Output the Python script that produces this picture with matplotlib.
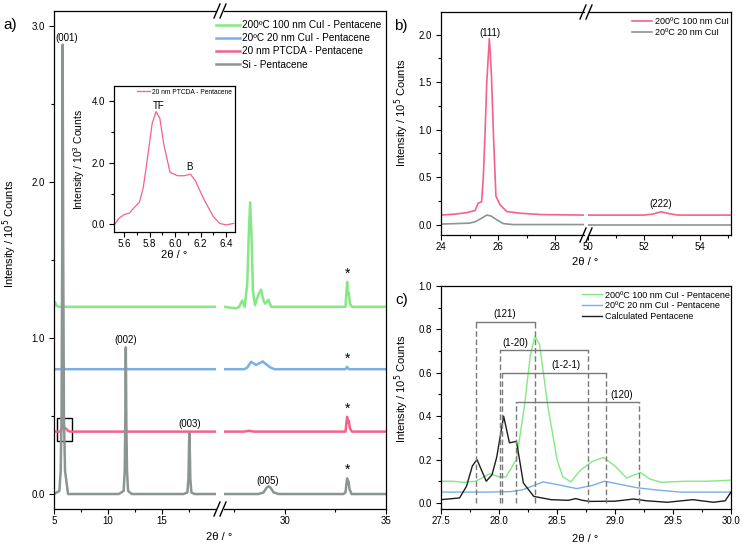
import matplotlib.pyplot as plt
from matplotlib.lines import Line2D
from matplotlib.patches import Rectangle
from matplotlib.ticker import FormatStrFormatter

plt.rcParams['font.family'] = ['Liberation Sans', 'DejaVu Sans']
plt.rcParams['axes.linewidth'] = 0.9

# ---- panel a : offset XRD patterns (x 5-20 and 27-35) ----
si_x1 = [5.0, 5.5, 5.62, 5.7, 5.76, 5.8, 5.85, 5.92, 6.02, 6.3, 11.0, 11.45, 11.55, 11.6, 11.65, 11.7, 11.76, 11.86, 12.2,
         17.0, 17.35, 17.45, 17.5, 17.53, 17.57, 17.62, 17.72, 18.0, 20.0]
si_y1 = [0.0, 0.02, 0.15, 0.5, 1.6, 2.88, 1.6, 0.5, 0.15, 0.0, 0.0, 0.02, 0.15, 0.45, 0.94, 0.45, 0.15, 0.02, 0.0,
         0.0, 0.01, 0.1, 0.3, 0.39, 0.3, 0.1, 0.01, 0.0, 0.0]
si_x2 = [27.0, 28.7, 28.95, 29.1, 29.2, 29.3, 29.45, 29.7, 32.9, 33.0, 33.05, 33.08, 33.12, 33.15, 33.2, 33.3, 35.0]
si_y2 = [0.0, 0.0, 0.01, 0.04, 0.05, 0.04, 0.01, 0.0, 0.0, 0.01, 0.07, 0.1, 0.07, 0.08, 0.03, 0.0, 0.0]

ptcda_x1 = [5.0, 5.6, 5.7, 5.85, 5.95, 6.1, 6.3, 6.5, 11.5, 11.65, 11.8, 20.0]
ptcda_y1 = [0.40, 0.40, 0.415, 0.445, 0.425, 0.42, 0.405, 0.40, 0.40, 0.41, 0.40, 0.40]
ptcda_x2 = [27.0, 28.0, 28.2, 28.5, 33.0, 33.05, 33.08, 33.12, 33.16, 33.22, 33.32, 35.0]
ptcda_y2 = [0.40, 0.40, 0.405, 0.40, 0.40, 0.46, 0.495, 0.46, 0.47, 0.42, 0.40, 0.40]

cui20_x1 = [5.0, 5.7, 5.85, 6.0, 11.55, 11.65, 11.75, 20.0]
cui20_y1 = [0.80, 0.80, 0.815, 0.80, 0.80, 0.81, 0.80, 0.80]
cui20_x2 = [27.0, 28.0, 28.15, 28.34, 28.58, 28.92, 29.0, 29.1, 29.3, 29.5, 33.0, 33.08, 33.16, 35.0]
cui20_y2 = [0.80, 0.80, 0.81, 0.848, 0.827, 0.85, 0.84, 0.83, 0.81, 0.80, 0.80, 0.815, 0.80, 0.80]

cui200_x1 = [5.0, 5.1, 5.25, 5.5, 20.0]
cui200_y1 = [1.215, 1.23, 1.205, 1.20, 1.20]
cui200_x2 = [27.0, 27.6, 27.75, 27.9, 28.02, 28.15, 28.22, 28.29, 28.36, 28.43, 28.53, 28.7, 28.83, 28.95, 29.03,
             29.19, 29.33, 29.5, 33.0, 33.05, 33.08, 33.12, 33.16, 33.22, 33.32, 35.0]
cui200_y2 = [1.20, 1.19, 1.20, 1.24, 1.20, 1.35, 1.65, 1.87, 1.65, 1.30, 1.21, 1.28, 1.31, 1.24, 1.22,
             1.245, 1.20, 1.20, 1.20, 1.30, 1.36, 1.28, 1.29, 1.22, 1.20, 1.20]

# inset : 20 nm PTCDA - Pentacene around (001)
ins_x = [5.53, 5.56, 5.6, 5.64, 5.68, 5.72, 5.75, 5.78, 5.82, 5.85, 5.88, 5.91, 5.96, 6.02, 6.07, 6.12, 6.16,
         6.22, 6.30, 6.35, 6.40, 6.46]
ins_y = [0.03, 0.2, 0.32, 0.36, 0.55, 0.72, 1.2, 2.07, 3.29, 3.67, 3.45, 2.62, 1.69, 1.58, 1.58, 1.63, 1.41,
         0.86, 0.25, 0.03, -0.02, 0.03]

# ---- panel b : CuI (111) / (222) ----
b_hot_x1 = [24.0, 24.5, 24.9, 25.19, 25.3, 25.42, 25.48, 25.54, 25.6, 25.69, 25.76, 25.84, 25.92, 26.06, 26.3,
            26.76, 27.5, 29.0]
b_hot_y1 = [0.10, 0.11, 0.126, 0.147, 0.225, 0.24, 0.5, 0.96, 1.5, 1.96, 1.6, 0.9, 0.3, 0.21, 0.137,
            0.12, 0.105, 0.10]
b_hot_x2 = [50.0, 52.0, 52.3, 52.6, 52.9, 53.2, 55.1]
b_hot_y2 = [0.10, 0.10, 0.11, 0.135, 0.115, 0.10, 0.10]
b_rt_x1 = [24.0, 25.0, 25.2, 25.42, 25.6, 25.75, 25.95, 26.18, 26.5, 29.0]
b_rt_y1 = [0.005, 0.015, 0.03, 0.067, 0.10, 0.09, 0.05, 0.01, 0.0, 0.0]
b_rt_x2 = [50.0, 55.1]
b_rt_y2 = [0.0, 0.0]

# ---- panel c : zoom 27.5-30 ----
c_hot_x = [27.5, 27.6, 27.7, 27.8, 27.92, 28.0, 28.06, 28.15, 28.22, 28.27, 28.31, 28.35, 28.42, 28.5, 28.55,
           28.62, 28.7, 28.8, 28.9, 29.0, 29.1, 29.22, 29.3, 29.4, 29.6, 29.8, 30.0]
c_hot_y = [0.10, 0.10, 0.095, 0.10, 0.135, 0.12, 0.12, 0.2, 0.45, 0.68, 0.77, 0.73, 0.45, 0.2, 0.12,
           0.097, 0.15, 0.19, 0.21, 0.17, 0.115, 0.14, 0.11, 0.095, 0.1, 0.1, 0.105]
c_rt_x = [27.5, 27.9, 28.1, 28.2, 28.3, 28.38, 28.5, 28.67, 28.8, 28.91, 29.05, 29.19, 29.35, 29.56, 30.0]
c_rt_y = [0.05, 0.05, 0.052, 0.06, 0.08, 0.097, 0.085, 0.066, 0.08, 0.1, 0.085, 0.07, 0.06, 0.05, 0.05]
c_calc_x = [27.5, 27.66, 27.72, 27.77, 27.81, 27.85, 27.89, 27.94, 27.98, 28.04, 28.09, 28.15, 28.18, 28.21,
            28.3, 28.45, 28.6, 28.66, 28.72, 28.78, 29.0, 29.16, 29.27, 29.45, 29.67, 29.85, 29.95, 30.0]
c_calc_y = [0.015, 0.023, 0.077, 0.17, 0.2, 0.15, 0.1, 0.13, 0.21, 0.40, 0.277, 0.284, 0.19, 0.092,
            0.03, 0.015, 0.012, 0.02, 0.012, 0.007, 0.008, 0.018, 0.01, 0.003, 0.015, 0.003, 0.01, 0.05]

hkl_labels = ['(121)', '(1-20)', '(1-2-1)', '(120)']
hkl_left = [27.80, 28.01, 28.03, 28.15]
hkl_right = [28.31, 28.77, 28.92, 29.21]
hkl_level = [0.835, 0.704, 0.60, 0.464]
hkl_text_x = [28.05, 28.14, 28.58, 29.06]

green = '#84e884'
blue = '#7ab0e4'
pink = '#f4628a'
grey = '#8c9494'
black = '#1e1e1e'

W, H = 742, 546
fig = plt.figure(figsize=(W / 100, H / 100), dpi=100)


def box(x0, y0, x1, y1):
    # pixel rectangle (top-left origin) -> figure fraction
    return [x0 / W, 1 - y1 / H, (x1 - x0) / W, (y1 - y0) / H]


def style(ax):
    ax.tick_params(which='both', direction='out', top=False, right=False, labelsize=7, width=0.8)
    ax.tick_params(which='major', length=3.5)
    ax.tick_params(which='minor', length=2)
    ax.tick_params(axis='y', pad=3)
    ax.tick_params(axis='x', pad=1.5)


def split(ax_l, ax_r):
    ax_l.spines['right'].set_visible(False)
    ax_r.spines['left'].set_visible(False)
    ax_r.tick_params(axis='y', which='both', left=False, labelleft=False)
    ax_r.patch.set_visible(False)
    p1 = ax_l.get_position()
    p2 = ax_r.get_position()
    xc = (p1.x1 + p2.x0) / 2
    for yf in (p1.y0, p1.y1):
        for k in (-1, 1):
            xs = xc + k * 3 / W
            fig.add_artist(Line2D([xs - 3 / W, xs + 3 / W], [yf - 7 / H, yf + 7 / H], color='k', lw=1))


# ----------------- a -----------------
a1 = fig.add_axes(box(54, 11, 216, 509))
a2 = fig.add_axes(box(224, 11, 386, 509))
lw = 1.8
a1.plot(cui200_x1, cui200_y1, color=green, lw=lw, label='200ºC 100 nm CuI - Pentacene')
a1.plot(cui20_x1, cui20_y1, color=blue, lw=lw, label='20ºC 20 nm CuI - Pentacene')
a1.plot(ptcda_x1, ptcda_y1, color=pink, lw=lw, label='20 nm PTCDA - Pentacene')
a1.plot(si_x1, si_y1, color=grey, lw=lw, label='Si - Pentacene')
a2.plot(cui200_x2, cui200_y2, color=green, lw=lw)
a2.plot(cui20_x2, cui20_y2, color=blue, lw=lw)
a2.plot(ptcda_x2, ptcda_y2, color=pink, lw=lw)
a2.plot(si_x2, si_y2, color=grey, lw=lw)
for ax in (a1, a2):
    style(ax)
    ax.set_ylim(-0.096, 3.096)
a1.set_xlim(5, 20)
a2.set_xlim(27, 35)
a1.set_xticks([5, 10, 15])
a1.set_xticks([7.5, 12.5, 17.5], minor=True)
a2.set_xticks([30, 35])
a2.set_xticks([27.5, 32.5], minor=True)
a1.set_yticks([0, 1, 2, 3])
a1.set_yticks([0.5, 1.5, 2.5], minor=True)
a1.yaxis.set_major_formatter(FormatStrFormatter('%.1f'))
split(a1, a2)

a1.add_patch(Rectangle((5.25, 0.34), 1.42, 0.15, fill=False, ec='k', lw=1))
a1.text(6.2, 2.92, '(001)', ha='center', va='center', fontsize=7)
a1.text(11.65, 0.99, '(002)', ha='center', va='center', fontsize=7)
a1.text(17.53, 0.45, '(003)', ha='center', va='center', fontsize=7)
a2.text(29.18, 0.085, '(005)', ha='center', va='center', fontsize=7)
for ys in (0.11, 0.50, 0.82, 1.37):
    a2.text(33.1, ys, '*', ha='center', va='bottom', fontsize=10)

a2.legend(handles=a1.get_lines(), loc='upper left', bbox_to_anchor=(216 / W, 1 - 20 / H),
          bbox_transform=fig.transFigure, frameon=False, fontsize=7.2, handlelength=2.4,
          handletextpad=0.2, labelspacing=0.32, borderpad=0, borderaxespad=0)

fig.text(10 / W, 1 - 25 / H, 'a)', fontsize=11, ha='center', va='center')
fig.text(10 / W, 1 - 234 / H, 'Intensity / 10$^5$ Counts', rotation=90, fontsize=8, ha='center', va='center')
fig.text(219 / W, 1 - 537 / H, '2θ / °', fontsize=8, ha='center', va='center')

# inset
ai = fig.add_axes(box(114, 86, 235, 232))
ai.set_facecolor('white')
ai.plot(ins_x, ins_y, color=pink, lw=0.9, label='20 nm PTCDA - Pentacene')
style(ai)
ai.set_xlim(5.52, 6.47)
ai.set_ylim(-0.25, 4.5)
ai.set_xticks([5.6, 5.8, 6.0, 6.2, 6.4])
ai.set_xticks([5.7, 5.9, 6.1, 6.3], minor=True)
ai.set_yticks([0, 2, 4])
ai.set_yticks([1, 3], minor=True)
ai.yaxis.set_major_formatter(FormatStrFormatter('%.1f'))
ai.xaxis.set_major_formatter(FormatStrFormatter('%.1f'))
ai.set_xlabel('2θ / °', fontsize=8, labelpad=1)
ai.set_ylabel('Intensity / 10$^3$ Counts', fontsize=7.5, labelpad=3)
ai.text(5.87, 3.86, 'TF', ha='center', va='center', fontsize=7)
ai.text(6.11, 1.85, 'B', ha='center', va='center', fontsize=7)
ai.legend(loc='upper right', frameon=False, fontsize=4.8, handlelength=2.0, handletextpad=0.3,
          borderpad=0.3, borderaxespad=0.1)

# ----------------- b -----------------
b1 = fig.add_axes(box(441, 12, 584, 235))
b2 = fig.add_axes(box(588, 12, 731, 235))
b1.plot(b_hot_x1, b_hot_y1, color=pink, lw=1.2, label='200ºC 100 nm CuI')
b1.plot(b_rt_x1, b_rt_y1, color=grey, lw=1.2, label='20ºC 20 nm CuI')
b2.plot(b_hot_x2, b_hot_y2, color=pink, lw=1.2)
b2.plot(b_rt_x2, b_rt_y2, color=grey, lw=1.2)
for ax in (b1, b2):
    style(ax)
    ax.set_ylim(-0.11, 2.24)
b1.set_xlim(24, 29)
b2.set_xlim(50, 55.1)
b1.set_xticks([24, 26, 28])
b1.set_xticks([25, 27], minor=True)
b2.set_xticks([50, 52, 54])
b2.set_xticks([51, 53, 55], minor=True)
b1.set_yticks([0, 0.5, 1.0, 1.5, 2.0])
b1.set_yticks([0.25, 0.75, 1.25, 1.75], minor=True)
b1.yaxis.set_major_formatter(FormatStrFormatter('%.1f'))
split(b1, b2)
b1.text(25.7, 2.02, '(111)', ha='center', va='center', fontsize=7)
b2.text(52.6, 0.22, '(222)', ha='center', va='center', fontsize=7)
b2.legend(handles=b1.get_lines(), loc='upper left', bbox_to_anchor=(631.7 / W, 1 - 17 / H),
          bbox_transform=fig.transFigure, frameon=False, fontsize=6.5, handlelength=2.2,
          handletextpad=0.35, labelspacing=0.25, borderpad=0, borderaxespad=0)
fig.text(401 / W, 1 - 26 / H, 'b)', fontsize=11, ha='center', va='center')
fig.text(402 / W, 1 - 113 / H, 'Intensity / 10$^5$ Counts', rotation=90, fontsize=8, ha='center', va='center')
fig.text(585 / W, 1 - 262 / H, '2θ / °', fontsize=8, ha='center', va='center')

# ----------------- c -----------------
c = fig.add_axes(box(441, 286, 731, 509))
c.plot(c_hot_x, c_hot_y, color=green, lw=1.0, label='200ºC 100 nm CuI - Pentacene')
c.plot(c_rt_x, c_rt_y, color=blue, lw=1.0, label='20ºC 20 nm CuI - Pentacene')
c.plot(c_calc_x, c_calc_y, color=black, lw=1.0, label='Calculated Pentacene')
for lab, x0, x1, yl, xt in zip(hkl_labels, hkl_left, hkl_right, hkl_level, hkl_text_x):
    c.plot([x0, x0], [0, yl], color='#7a7a7a', lw=1.0, ls=(0, (4, 2)))
    c.plot([x1, x1], [0, yl], color='#7a7a7a', lw=1.0, ls=(0, (4, 2)))
    c.plot([x0, x1], [yl, yl], color='#7a7a7a', lw=1.0)
    c.text(xt, yl + 0.012, lab, ha='center', va='bottom', fontsize=7)
style(c)
c.set_xlim(27.5, 30.0)
c.set_ylim(-0.028, 1.0)
c.set_xticks([27.5, 28.0, 28.5, 29.0, 29.5, 30.0])
c.set_xticks([27.75, 28.25, 28.75, 29.25, 29.75], minor=True)
c.set_yticks([0, 0.2, 0.4, 0.6, 0.8, 1.0])
c.set_yticks([0.1, 0.3, 0.5, 0.7, 0.9], minor=True)
c.xaxis.set_major_formatter(FormatStrFormatter('%.1f'))
c.yaxis.set_major_formatter(FormatStrFormatter('%.1f'))
c.legend(handles=c.get_lines()[:3], loc='upper left', bbox_to_anchor=(581.7 / W, 1 - 290.5 / H),
         bbox_transform=fig.transFigure, frameon=False, fontsize=6.5, handlelength=2.2,
         handletextpad=0.35, labelspacing=0.2, borderpad=0, borderaxespad=0)
fig.text(402 / W, 1 - 300 / H, 'c)', fontsize=11, ha='center', va='center')
fig.text(402 / W, 1 - 389 / H, 'Intensity / 10$^5$ Counts', rotation=90, fontsize=8, ha='center', va='center')
fig.text(585 / W, 1 - 539 / H, '2θ / °', fontsize=8, ha='center', va='center')

fig.savefig('out.png', dpi=100)
